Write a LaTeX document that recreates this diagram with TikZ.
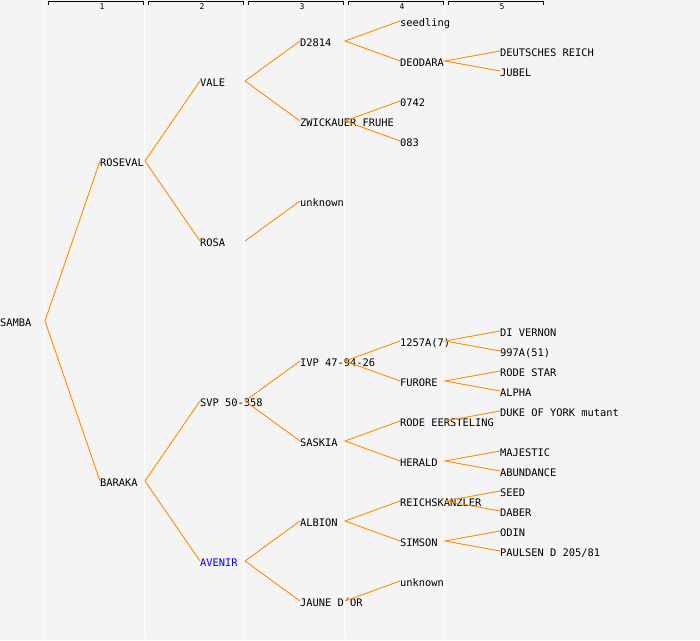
\documentclass[tikz,border=0pt]{standalone}
\usepackage{fontspec}
\setmonofont{DejaVu Sans Mono}
\begin{document}
\begin{tikzpicture}[x=1pt,y=-1pt,
  lbl/.style={anchor=west,inner sep=0pt,outer sep=0pt,font=\ttfamily\fontsize{10.4}{10}\selectfont,text height=10pt,text depth=0pt},
  hdr/.style={inner sep=0pt,font=\ttfamily\fontsize{8}{8}\selectfont},
  sep/.style={draw=white,line width=1.2pt},
  brk/.style={draw=black,line width=0.9pt}]
\definecolor{bg}{HTML}{F4F4F4}
\definecolor{ora}{HTML}{FF8C00}
\tikzset{conn/.style={draw=ora,line width=0.9pt}}
\useasboundingbox (0,0) rectangle (700,640);
\fill[bg] (0,0) rectangle (700,640);
% column separators
\foreach \i in {0,...,4}{
  \draw[sep] (44.5+100*\i,0) -- (44.5+100*\i,638);
}
% header brackets
\foreach \i in {1,...,5}{
  \draw[brk] (100*\i-52,4.5) |- (100*\i+43,1.5) -- (100*\i+43,4.5);
  \node[hdr] (h\i) at (100*\i+2,6.5) {\i};
}
% generation 0
\node[lbl] (samba) at (0,321) {SAMBA};
% generation 1
\node[lbl] (roseval) at (100,161) {ROSEVAL};
\node[lbl] (baraka) at (100,481) {BARAKA};
% generation 2
\node[lbl] (vale) at (200,81) {VALE};
\node[lbl] (rosa) at (200,241) {ROSA};
\node[lbl] (svp) at (200,401) {SVP 50-358};
\node[lbl,text=blue] (avenir) at (200,561) {AVENIR};
% generation 3
\node[lbl] (d2814) at (300,41) {D2814};
\node[lbl] (zwick) at (300,121) {ZWICKAUER FRUHE};
\node[lbl] (unkA) at (300,201) {unknown};
\node[lbl] (ivp) at (300,361) {IVP 47-94-26};
\node[lbl] (saskia) at (300,441) {SASKIA};
\node[lbl] (albion) at (300,521) {ALBION};
\node[lbl] (jaune) at (300,601) {JAUNE D´OR};
% generation 4
\node[lbl] (seedling) at (400,21) {seedling};
\node[lbl] (deodara) at (400,61) {DEODARA};
\node[lbl] (o742) at (400,101) {0742};
\node[lbl] (o83) at (400,141) {083};
\node[lbl] (n1257) at (400,341) {1257A(7)};
\node[lbl] (furore) at (400,381) {FURORE};
\node[lbl] (rodee) at (400,421) {RODE EERSTELING};
\node[lbl] (herald) at (400,461) {HERALD};
\node[lbl] (reich) at (400,501) {REICHSKANZLER};
\node[lbl] (simson) at (400,541) {SIMSON};
\node[lbl] (unkB) at (400,581) {unknown};
% generation 5
\node[lbl] (deutsch) at (500,51) {DEUTSCHES REICH};
\node[lbl] (jubel) at (500,71) {JUBEL};
\node[lbl] (divernon) at (500,331) {DI VERNON};
\node[lbl] (n997) at (500,351) {997A(51)};
\node[lbl] (rodestar) at (500,371) {RODE STAR};
\node[lbl] (alpha) at (500,391) {ALPHA};
\node[lbl] (duke) at (500,411) {DUKE OF YORK mutant};
\node[lbl] (majestic) at (500,451) {MAJESTIC};
\node[lbl] (abund) at (500,471) {ABUNDANCE};
\node[lbl] (seed) at (500,491) {SEED};
\node[lbl] (daber) at (500,511) {DABER};
\node[lbl] (odin) at (500,531) {ODIN};
\node[lbl] (paulsen) at (500,551) {PAULSEN D 205/81};
% branching points
\coordinate (v-samba) at (45,321);
\coordinate (v-roseval) at (145,161);
\coordinate (v-baraka) at (145,481);
\coordinate (v-vale) at (245,81);
\coordinate (v-rosa) at (245,241);
\coordinate (v-svp) at (245,401);
\coordinate (v-avenir) at (245,561);
\coordinate (v-d2814) at (345,41);
\coordinate (v-zwick) at (345,121);
\coordinate (v-ivp) at (345,361);
\coordinate (v-saskia) at (345,441);
\coordinate (v-albion) at (345,521);
\coordinate (v-jaune) at (345,601);
\coordinate (v-deodara) at (445,61);
\coordinate (v-1257) at (445,341);
\coordinate (v-furore) at (445,381);
\coordinate (v-rodee) at (445,421);
\coordinate (v-herald) at (445,461);
\coordinate (v-reich) at (445,501);
\coordinate (v-simson) at (445,541);
% connectors
\draw[conn] (roseval.west) -- (v-samba) -- (baraka.west);
\draw[conn] (vale.west) -- (v-roseval) -- (rosa.west);
\draw[conn] (svp.west) -- (v-baraka) -- (avenir.west);
\draw[conn] (d2814.west) -- (v-vale) -- (zwick.west);
\draw[conn] (v-rosa) -- (unkA.west);
\draw[conn] (ivp.west) -- (v-svp) -- (saskia.west);
\draw[conn] (albion.west) -- (v-avenir) -- (jaune.west);
\draw[conn] (seedling.west) -- (v-d2814) -- (deodara.west);
\draw[conn] (o742.west) -- (v-zwick) -- (o83.west);
\draw[conn] (n1257.west) -- (v-ivp) -- (furore.west);
\draw[conn] (rodee.west) -- (v-saskia) -- (herald.west);
\draw[conn] (reich.west) -- (v-albion) -- (simson.west);
\draw[conn] (v-jaune) -- (unkB.west);
\draw[conn] (deutsch.west) -- (v-deodara) -- (jubel.west);
\draw[conn] (divernon.west) -- (v-1257) -- (n997.west);
\draw[conn] (rodestar.west) -- (v-furore) -- (alpha.west);
\draw[conn] (v-rodee) -- (duke.west);
\draw[conn] (majestic.west) -- (v-herald) -- (abund.west);
\draw[conn] (seed.west) -- (v-reich) -- (daber.west);
\draw[conn] (odin.west) -- (v-simson) -- (paulsen.west);
\end{tikzpicture}
\end{document}
